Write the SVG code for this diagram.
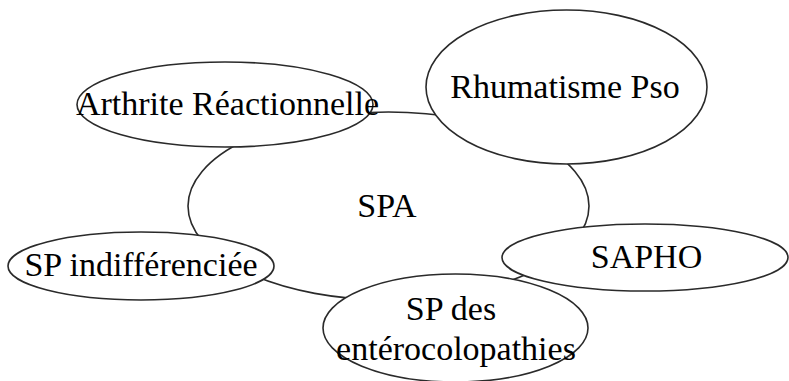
<svg xmlns="http://www.w3.org/2000/svg" width="789" height="381" viewBox="0 0 789 381">
<style>
.n{fill:#fff;stroke:#2a2a2a;stroke-width:1.6}
.t{font-family:"Liberation Serif","Times New Roman",serif;font-size:34px;fill:#000;text-anchor:middle}
</style>
<rect width="789" height="381" fill="#fff"/>
<g id="connectors"/>
<g id="spa"><ellipse class="n" cx="388.5" cy="206" rx="200.5" ry="94"/><text class="t" x="387" y="217">SPA</text></g>
<g id="arthrite"><ellipse class="n" cx="225" cy="104.5" rx="148" ry="42.5"/></g>
<g id="rhumatisme"><ellipse class="n" cx="566.5" cy="87" rx="140.5" ry="77"/><text class="t" x="565" y="98">Rhumatisme Pso</text></g>
<g id="indiff"><ellipse class="n" cx="141" cy="266" rx="133" ry="34"/><text class="t" x="141" y="276">SP indifférenciée</text></g>
<g id="enterocolo"><ellipse class="n" cx="455.5" cy="328" rx="132.5" ry="54"/></g>
<g id="sapho"><ellipse class="n" cx="645" cy="257.5" rx="143" ry="33.5"/><text class="t" x="646.5" y="268">SAPHO</text></g>
<text class="t" x="227.5" y="115">Arthrite Réactionnelle</text>
<text class="t" x="451" y="320">SP des</text>
<text class="t" x="456" y="360">entérocolopathies</text>
</svg>
